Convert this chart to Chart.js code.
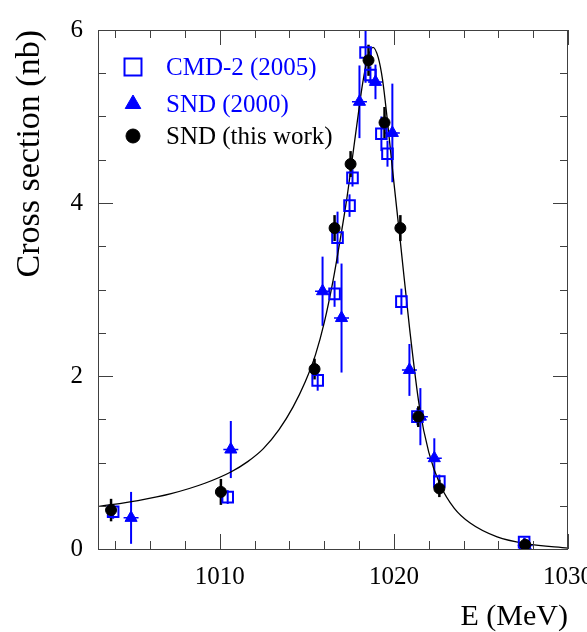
<!DOCTYPE html>
<html><head><meta charset="utf-8">
<script src="https://cdn.jsdelivr.net/npm/chart.js@4.4.1/dist/chart.umd.min.js"></script>
<style>html,body{margin:0;padding:0;background:#fff}</style>
</head><body>
<canvas id="c" width="587" height="632"></canvas>
<script>
// ---- data ----
const curveE = [1003.0, 1005.3, 1007.2, 1009.14, 1010.63, 1011.6, 1012.5, 1013.4, 1014.2, 1014.9, 1015.5, 1016.0, 1016.5, 1016.95, 1017.3, 1017.6, 1017.9, 1018.2, 1018.5, 1018.8, 1019.1, 1019.35, 1019.6, 1019.9, 1020.37, 1020.9, 1021.46, 1022.0, 1022.66, 1023.47, 1024.38, 1025.93, 1027.65, 1030.0];
const curveS = [0.49, 0.56, 0.64, 0.76, 0.89, 1.01, 1.16, 1.38, 1.64, 1.93, 2.25, 2.62, 3.10, 3.62, 4.06, 4.50, 4.95, 5.38, 5.68, 5.80, 5.68, 5.42, 5.00, 4.42, 3.55, 2.55, 1.65, 1.12, 0.74, 0.47, 0.30, 0.14, 0.06, 0.01];

const sndE   = [1003.75, 1010.06, 1015.44, 1016.59, 1017.51, 1018.54, 1019.46, 1020.37, 1021.4, 1022.61, 1027.54];
const sndS   = [0.45, 0.66, 2.08, 3.71, 4.45, 5.65, 4.93, 3.71, 1.53, 0.70, 0.05];
const sndErr = [0.13, 0.15, 0.12, 0.15, 0.15, 0.18, 0.18, 0.15, 0.12, 0.10, 0.05];

const cmdE   = [1003.87, 1010.45, 1015.62, 1016.59, 1016.76, 1017.45, 1017.62, 1018.37, 1018.65, 1019.28, 1019.63, 1020.43, 1021.35, 1022.61, 1027.48];
const cmdS   = [0.43, 0.60, 1.95, 2.95, 3.60, 3.97, 4.29, 5.74, 5.48, 4.80, 4.57, 2.86, 1.53, 0.78, 0.08];
const cmdErr = [0.08, 0.08, 0.12, 0.15, 0.30, 0.13, 0.10, 0.35, 0.10, 0.20, 0.15, 0.15, 0.10, 0.08, 0.05];

const snd00E   = [1004.9, 1010.63, 1015.9, 1016.99, 1018.02, 1018.94, 1019.91, 1020.89, 1021.52, 1022.32, 1027.54];
const snd00S   = [0.36, 1.15, 2.98, 2.67, 5.17, 5.40, 4.81, 2.07, 1.53, 1.05, 0.04];
const snd00Err = [0.30, 0.33, 0.40, 0.63, 0.42, 0.20, 0.57, 0.30, 0.33, 0.23, 0.05];

const xTickLabels = [1010, 1020, 1030];
const yTickLabels = [0, 2, 4, 6];
const legendLabels = ['CMD-2 (2005)', 'SND (2000)', 'SND (this work)'];

// ---- styles ----
const SERIF = "'Liberation Serif', 'Times New Roman', 'DejaVu Serif', serif";
const BLUE = '#0000ff';
const AXIS = '#404040';
const E_HALF = 0.43; // half-width of horizontal dashes (MeV)

function pts(E, S) { return E.map((e, i) => ({x: e, y: S[i]})); }

const decor = {
  id: 'decor',
  beforeDatasetsDraw(chart) {
    const {ctx, chartArea: a, scales: {x, y}} = chart;
    ctx.save();
    ctx.beginPath(); ctx.rect(a.left, a.top, a.right - a.left, a.bottom - a.top); ctx.clip();
    const vbars = (E, S, Er, col, w) => {
      ctx.strokeStyle = col; ctx.lineWidth = w; ctx.setLineDash([]);
      E.forEach((e, i) => {
        const px = x.getPixelForValue(e);
        ctx.beginPath();
        ctx.moveTo(px, y.getPixelForValue(S[i] - Er[i]));
        ctx.lineTo(px, y.getPixelForValue(S[i] + Er[i]));
        ctx.stroke();
      });
    };
    vbars(cmdE, cmdS, cmdErr, BLUE, 2);
    vbars(snd00E, snd00S, snd00Err, BLUE, 2);
    ctx.setLineDash([4, 7]); ctx.lineWidth = 1.5; ctx.strokeStyle = BLUE;
    snd00E.forEach((e, i) => {
      const py = y.getPixelForValue(snd00S[i]);
      ctx.beginPath();
      ctx.moveTo(x.getPixelForValue(e - E_HALF), py);
      ctx.lineTo(x.getPixelForValue(e + E_HALF), py);
      ctx.stroke();
    });
    ctx.setLineDash([]);
    vbars(sndE, sndS, sndErr, '#000', 2.5);
    ctx.restore();
  },
  afterDraw(chart) {
    const {ctx, chartArea: a, scales: {x, y}} = chart;
    ctx.save();
    ctx.strokeStyle = AXIS; ctx.lineWidth = 1;
    ctx.strokeRect(a.left + 0.5, a.top + 0.5, a.right - a.left - 1, a.bottom - a.top);
    ctx.beginPath();
    for (let v = 1004; v <= 1030; v += 2) {
      const px = Math.round(x.getPixelForValue(v)) + 0.5;
      const L = (v % 10 === 0) ? 15 : 8;
      ctx.moveTo(px, a.bottom); ctx.lineTo(px, a.bottom - L);
      ctx.moveTo(px, a.top); ctx.lineTo(px, a.top + L);
    }
    for (let k = 0; k <= 12; k++) {
      const v = k * 0.5;
      const py = Math.round(y.getPixelForValue(v)) + 0.5;
      const L = (k % 4 === 0) ? 15 : 8;
      ctx.moveTo(a.left, py); ctx.lineTo(a.left + L, py);
      ctx.moveTo(a.right, py); ctx.lineTo(a.right - L, py);
    }
    ctx.stroke();
    const ds = chart.data.datasets;
    const items = [
      {d: ds[2], label: legendLabels[0], color: BLUE, r: 12, cy: 67},
      {d: ds[1], label: legendLabels[1], color: BLUE, r: 9, cy: 104},
      {d: ds[0], label: legendLabels[2], color: '#000', r: 7, cy: 136}
    ];
    ctx.font = '25px ' + SERIF;
    ctx.textBaseline = 'middle'; ctx.textAlign = 'left';
    items.forEach(it => {
      const st = {pointStyle: it.d.pointStyle, radius: it.r, borderWidth: it.d.borderWidth, rotation: 0};
      ctx.fillStyle = it.d.backgroundColor; ctx.strokeStyle = it.d.borderColor; ctx.lineWidth = it.d.borderWidth;
      Chart.helpers.drawPoint(ctx, st, 133, it.cy);
      ctx.fillStyle = it.color;
      ctx.fillText(it.label, 166, it.cy + 1);
    });
    ctx.restore();
  }
};

function build() {
  new Chart(document.getElementById('c'), {
    type: 'scatter',
    data: {
      datasets: [
        {label: legendLabels[2], data: pts(sndE, sndS), pointStyle: 'circle', pointRadius: 5.5,
         backgroundColor: '#000', borderColor: '#000', borderWidth: 1},
        {label: legendLabels[1], data: pts(snd00E, snd00S), pointStyle: 'triangle', pointRadius: 7,
         backgroundColor: BLUE, borderColor: BLUE, borderWidth: 1},
        {label: legendLabels[0], data: pts(cmdE, cmdS), pointStyle: 'rect', pointRadius: 7.5,
         backgroundColor: 'rgba(255,255,255,0)', borderColor: BLUE, borderWidth: 2},
        {type: 'line', label: 'fit', data: pts(curveE, curveS), showLine: true, pointRadius: 0,
         borderColor: '#000', borderWidth: 1.3, cubicInterpolationMode: 'monotone', fill: false}
      ]
    },
    options: {
      responsive: false, animation: false, devicePixelRatio: 1,
      layout: {padding: {left: 0, top: 22, right: 19, bottom: 0}},
      plugins: {legend: {display: false}, tooltip: {enabled: false}},
      scales: {
        x: {
          type: 'linear', min: 1003, max: 1030,
          grid: {display: false, drawTicks: false}, border: {display: false},
          afterBuildTicks: s => { s.ticks = xTickLabels.map(v => ({value: v})); },
          afterFit: s => { s.height = 83; s.paddingLeft = 0; s.paddingRight = 0; },
          ticks: {color: '#000', padding: 13, maxRotation: 0, autoSkip: false,
                  callback: v => String(v), font: {family: SERIF, size: 25}},
          title: {display: true, text: 'E (MeV)', align: 'end', color: '#000',
                  font: {family: SERIF, size: 30, lineHeight: 1}, padding: {top: 0, bottom: 0}}
        },
        y: {
          type: 'linear', min: 0, max: 6,
          grid: {display: false, drawTicks: false}, border: {display: false},
          afterBuildTicks: s => { s.ticks = yTickLabels.map(v => ({value: v})); },
          afterFit: s => { s.width = 98; },
          ticks: {color: '#000', padding: 15, callback: v => String(v), font: {family: SERIF, size: 25}},
          title: {display: true, text: 'Cross section (nb)', align: 'end', color: '#000',
                  font: {family: SERIF, size: 34}, padding: {top: 10, bottom: 0}}
        }
      }
    },
    plugins: [decor]
  });
}

if (document.fonts && document.fonts.load) {
  Promise.all([document.fonts.load("25px 'Liberation Serif'"), document.fonts.load("34px 'Liberation Serif'")])
    .then(build, build);
} else { build(); }
</script>
</body></html>
